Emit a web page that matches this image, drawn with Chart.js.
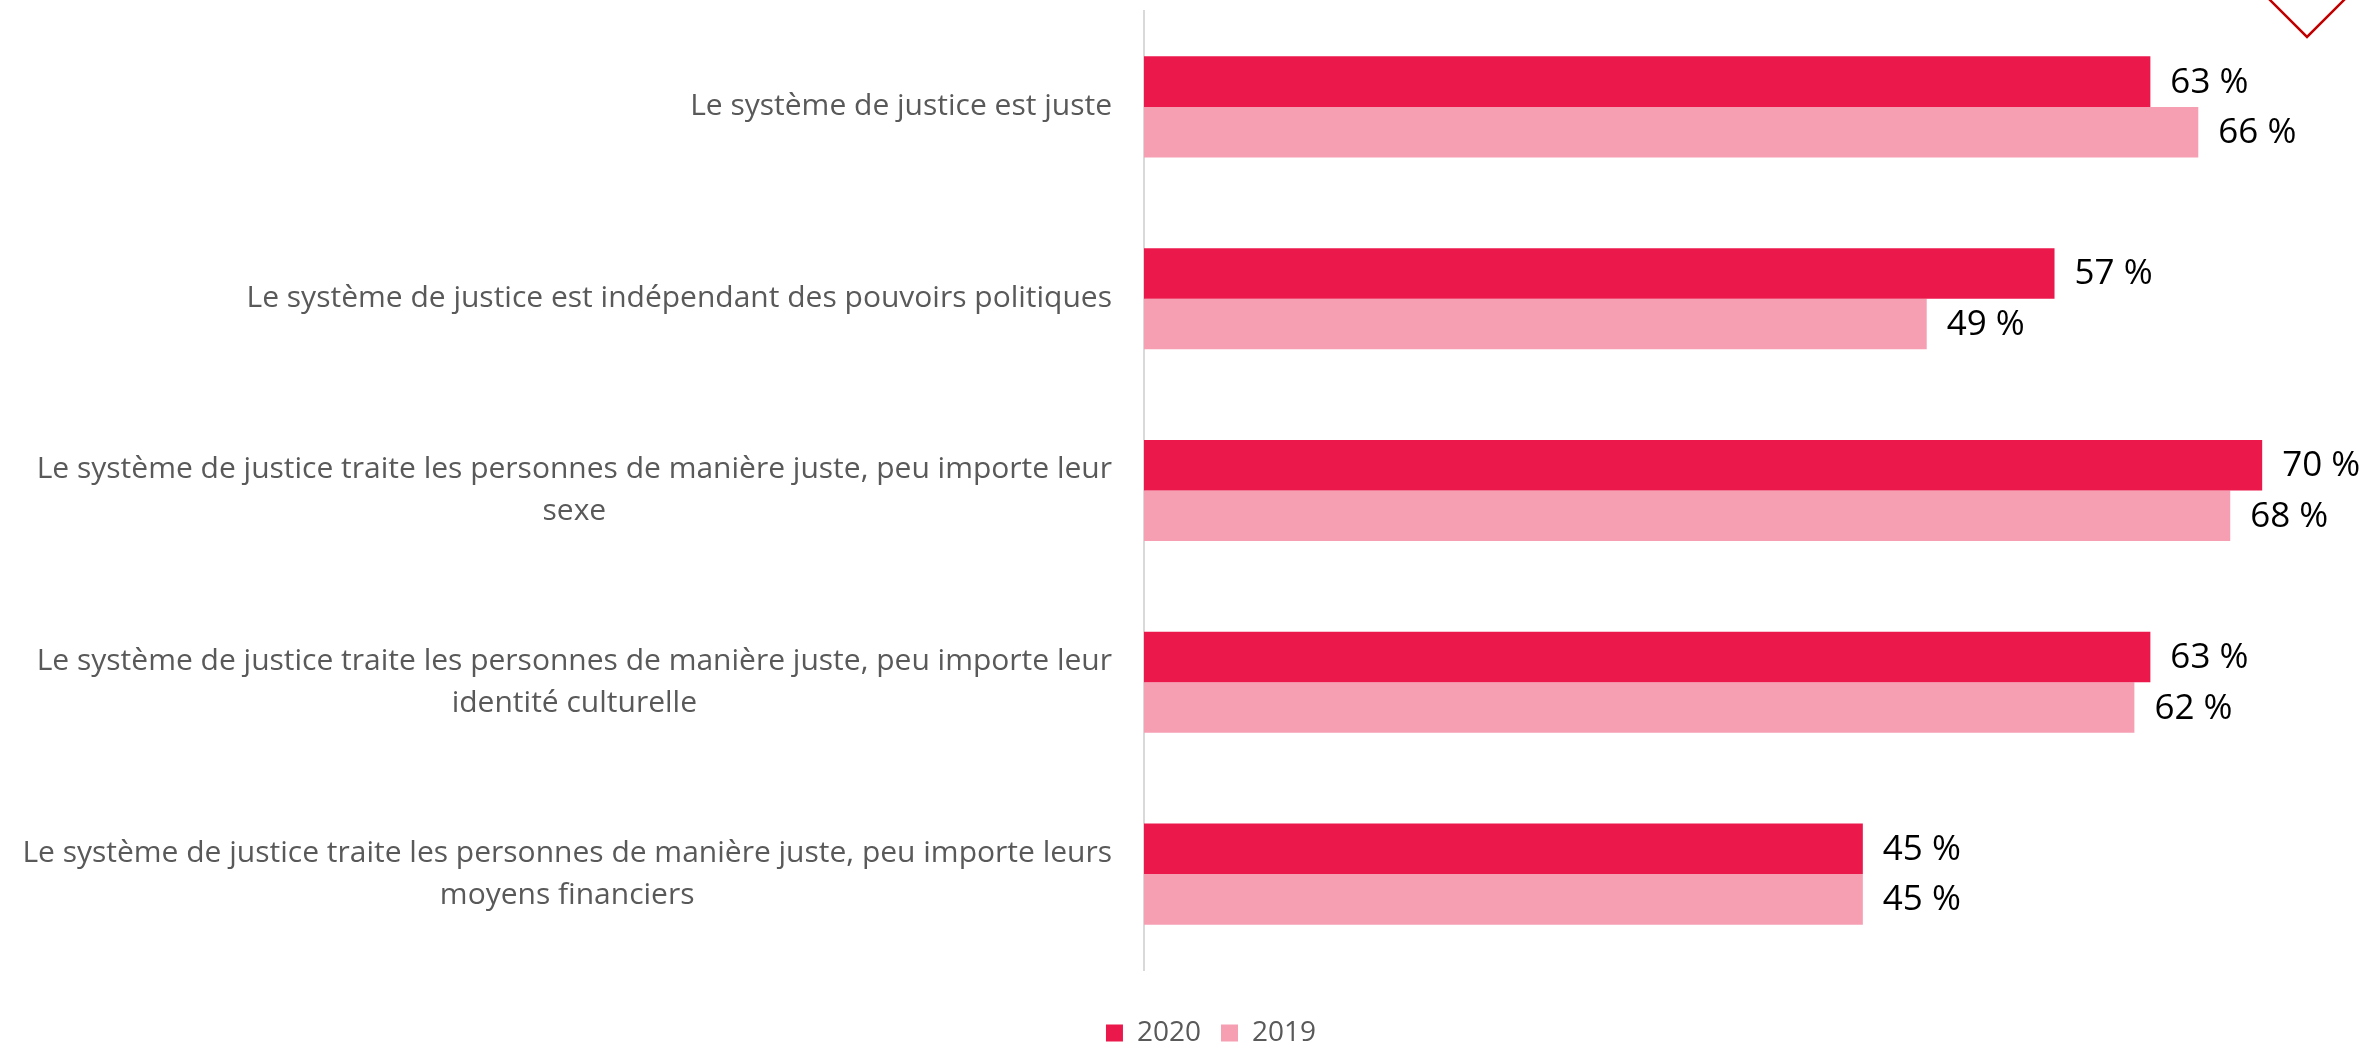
<!DOCTYPE html>
<html>
<head>
<meta charset="utf-8">
<script src="https://cdn.jsdelivr.net/npm/chart.js@4"></script>
<style>
    html, body { margin: 0; padding: 0; background: #fff; overflow: hidden; }
    #wrap { width: 2374px; height: 1057px; position: relative; }
</style>
</head>
<body>
<div id="wrap"><canvas id="justiceChart"></canvas></div>
<script>
// Chart data
const categories = [
    'Le système de justice est juste',
    'Le système de justice est indépendant des pouvoirs politiques',
    ['Le système de justice traite les personnes de manière juste, peu importe leur', 'sexe'],
    ['Le système de justice traite les personnes de manière juste, peu importe leur', 'identité culturelle'],
    ['Le système de justice traite les personnes de manière juste, peu importe leurs', 'moyens financiers'],
];
const seriesNames = ['2020', '2019'];
const values2020 = [63, 57, 70, 63, 45];
const values2019 = [66, 49, 68, 62, 45];

const FONT = '"Open Sans", sans-serif';

// Category labels: block right-aligned to the axis, lines centered within the block
const categoryLabels = {
    id: 'categoryLabels',
    afterDraw(chart) {
        const scale = chart.scales.y;
        const ctx = chart.ctx;
        const right = chart.chartArea.left - 32;
        const lineHeight = 42;
        ctx.save();
        ctx.font = '30px ' + FONT;
        ctx.fillStyle = '#595959';
        ctx.textAlign = 'center';
        ctx.textBaseline = 'middle';
        categories.forEach((label, i) => {
            const lines = Array.isArray(label) ? label : [label];
            const w = Math.max(...lines.map(l => ctx.measureText(l).width));
            const cx = right - w / 2;
            const y0 = scale.getPixelForTick(i) - (lines.length - 1) * lineHeight / 2;
            lines.forEach((l, k) => ctx.fillText(l, cx, y0 + k * lineHeight));
        });
        ctx.restore();
    },
};

// Value labels at the end of each bar
const valueLabels = {
    id: 'valueLabels',
    afterDatasetsDraw(chart) {
        const ctx = chart.ctx;
        ctx.save();
        ctx.font = '35px ' + FONT;
        ctx.fillStyle = '#000000';
        ctx.textAlign = 'left';
        ctx.textBaseline = 'middle';
        chart.data.datasets.forEach((ds, d) => {
            chart.getDatasetMeta(d).data.forEach((bar, i) => {
                ctx.fillText(ds.data[i] + ' %', bar.x + 20, bar.y + 1);
            });
        });
        ctx.restore();
    },
};

// Red chevron decoration, top right corner
const chevron = {
    id: 'chevron',
    afterDraw(chart) {
        const ctx = chart.ctx;
        ctx.save();
        ctx.strokeStyle = '#C00000';
        ctx.lineWidth = 2.5;
        ctx.beginPath();
        ctx.moveTo(2269, -1);
        ctx.lineTo(2307, 37);
        ctx.lineTo(2346, -2);
        ctx.stroke();
        ctx.restore();
    },
};

const ctx = document.getElementById('justiceChart').getContext('2d');
const justiceChart = new Chart(ctx, {
    type: 'bar',
    data: {
        labels: categories,
        datasets: [
            {
                label: seriesNames[0],
                data: values2020,
                backgroundColor: '#EB184C',
            },
            {
                label: seriesNames[1],
                data: values2019,
                backgroundColor: '#F69FB3',
            },
        ],
    },
    options: {
        indexAxis: 'y',
        responsive: true,
        maintainAspectRatio: false,
        animation: false,
        categoryPercentage: 0.527,
        barPercentage: 1.0,
        layout: {
            padding: { top: 11, left: 48, right: 0, bottom: 0 },
        },
        plugins: {
            tooltip: { enabled: false },
            legend: {
                display: true,
                position: 'bottom',
                labels: {
                    color: '#595959',
                    font: { family: FONT, size: 28 },
                    boxWidth: 17,
                    boxHeight: 17,
                    padding: 20,
                },
            },
        },
        scales: {
            x: {
                min: 0,
                max: 77,
                grid: { display: false },
                border: { display: false },
                ticks: { display: false },
                afterFit(scale) { scale.height = 29; },
            },
            y: {
                grid: { display: false },
                border: { display: true, color: '#D9D9D9', width: 2 },
                ticks: { display: false },
                afterFit(scale) { scale.width = 1096; },
            },
        },
    },
    plugins: [categoryLabels, valueLabels, chevron],
});
</script>
</body>
</html>
